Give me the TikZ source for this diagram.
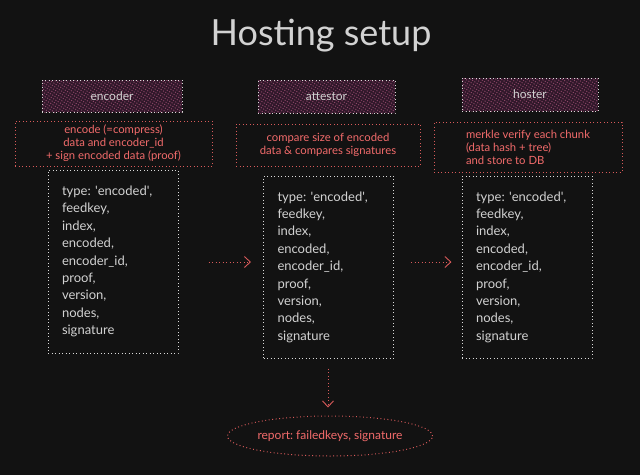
\documentclass[tikz,border=0pt]{standalone}
\usepackage{fontspec}
\setmainfont{Lato}
\usetikzlibrary{shapes.geometric,patterns.meta,arrows.meta,calc}
\definecolor{bg}{HTML}{121212}
\definecolor{ink}{HTML}{D2D2D2}
\definecolor{redink}{HTML}{F26B6B}
\definecolor{redline}{HTML}{D85A5A}
\definecolor{hatchbase}{HTML}{30182A}
\definecolor{hatchline}{HTML}{8C4668}
\frenchspacing
\newcommand{\sq}{\textquotesingle}
\begin{document}
\begin{tikzpicture}[x=1pt,y=-1pt,
  dots/.style={line width=1pt,dash pattern=on 0.9pt off 2.6pt},
  header/.style={dots,draw=ink!85,preaction={fill=hatchbase},
    pattern={Lines[angle=58,distance=2.7pt,line width=1.1pt]},pattern color=hatchline,
    text=ink,font=\fontsize{12}{14}\selectfont,inner sep=0pt},
  desc/.style={dots,draw=redline,text=redink,font=\fontsize{11.3}{13}\selectfont,inner sep=0pt},
  fields/.style={dots,draw=ink!80,text=ink,font=\fontsize{13}{17.4}\selectfont,
    align=left,inner xsep=14pt,inner ysep=0pt,text width=102pt,minimum height=182pt},
  arr/.style={dots,draw=redline,-{Straight Barb[length=6pt,width=11pt,line width=0.9pt]}}]
\fill[bg] (0,0) rectangle (640,475);
\useasboundingbox (0,0) rectangle (640,475);

\node[text=ink,font=\fontsize{36}{40}\selectfont] (title) at (321,36) {Hosting setup};

\node[header,minimum width=140pt,minimum height=32pt] (encH) at (112,96) {encoder};
\node[header,minimum width=137pt,minimum height=33pt] (attH) at (326.5,96.5) {attestor};
\node[header,minimum width=136pt,minimum height=33pt] (hosH) at (530,94.5) {hoster};

\node[desc,minimum width=197pt,minimum height=45pt,align=center] (encD) at (113.5,143.5)
  {encode (=compress)\\data and encoder\_id\\+ sign encoded data (proof)};
\node[desc,minimum width=184pt,minimum height=42pt,align=center] (attD) at (328,145)
  {compare size of encoded\\data \& compares signatures};
\node[desc,minimum width=188pt,minimum height=50pt,align=left] (hosD) at (528,147)
  {merkle verify each chunk\\(data hash + tree)\\and store to DB};

\node[fields,minimum height=183pt] (encF) at (113,261.5)
  {type: \sq encoded\sq,\\feedkey,\\index,\\encoded,\\encoder\_id,\\proof,\\version,\\nodes,\\signature};
\node[fields] (attF) at (328.5,267)
  {type: \sq encoded\sq,\\feedkey,\\index,\\encoded,\\encoder\_id,\\proof,\\version,\\nodes,\\signature};
\node[fields] (hosF) at (527,267)
  {type: \sq encoded\sq,\\feedkey,\\index,\\encoded,\\encoder\_id,\\proof,\\version,\\nodes,\\signature};

\node[ellipse,dots,draw=redline,text=redink,font=\fontsize{12}{13}\selectfont,
  minimum width=180pt,minimum height=40pt,inner sep=0pt] (report) at (330,436)
  {report: failedkeys, signature};

\draw[arr,shorten <=30pt,shorten >=12pt] (encF.east |- 0,262) -- (attF.west |- 0,262);
\draw[arr,shorten <=17pt,shorten >=10pt] (attF.east |- 0,262) -- (hosF.west |- 0,262);
\draw[arr,shorten <=10pt,shorten >=8pt] (328,0 |- attF.south) -- (report.north -| 328,0);
\end{tikzpicture}
\end{document}
